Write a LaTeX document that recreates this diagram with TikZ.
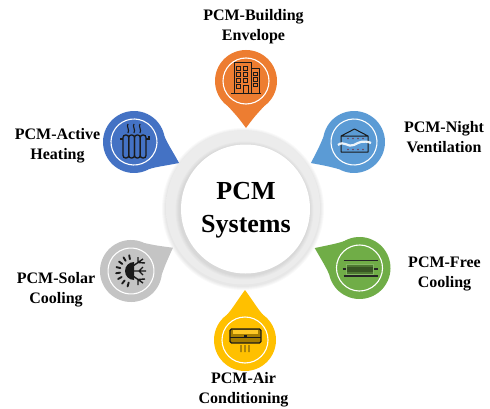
\documentclass[tikz,border=0pt]{standalone}
\usepackage{fontspec}
\setmainfont{Liberation Serif}
\usetikzlibrary{calc}
\definecolor{pinorange}{HTML}{ED7D31}
\definecolor{pinblue}{HTML}{4472C4}
\definecolor{pinsky}{HTML}{5B9BD5}
\definecolor{pingreen}{HTML}{70AD47}
\definecolor{pinyellow}{HTML}{FFC000}
\definecolor{pingray}{HTML}{C4C4C4}
\definecolor{icondark}{HTML}{1A1A1A}
\definecolor{ringa}{HTML}{EEEEEE}
\definecolor{ringb}{HTML}{EAEAEA}
\definecolor{ringc}{HTML}{F4F4F4}
\definecolor{ringd}{HTML}{E4E4E4}
\pgfdeclareradialshading{ringsh}{\pgfpoint{0bp}{0bp}}{color(0bp)=(ringa);color(42bp)=(ringb);color(46.5bp)=(ringc);color(50bp)=(ringd)}
\tikzset{
  lbl/.style={font=\bfseries\fontsize{16}{20}\selectfont,align=center,text=black,inner sep=0pt},
  title/.style={font=\bfseries\fontsize{26}{33}\selectfont,align=center,text=black,inner sep=0pt},
  ic/.style={draw=icondark,line width=1pt,fill=none,line join=round},
  icw/.style={draw=icondark,line width=0.8pt,fill=none},
}
\newcommand{\pinmark}[5]{% cx cy angle dist colour
  \begin{scope}[shift={(#1,#2)},rotate=#3]
    \fill[#5] (0,0) circle (31);
    \fill[#5] (#4,0) .. controls (#4-13,9.5) and (32,12) .. (25,18.2) -- (25,-18.2) .. controls (32,-12) and (#4-13,-9.5) .. (#4,0) -- cycle;
    \draw[white,line width=1.1pt] (0,0) circle (23);
  \end{scope}}
\begin{document}
\begin{tikzpicture}[x=1pt,y=1pt]
\useasboundingbox (0,0) rectangle (490,408);
\fill[white] (0,0) rectangle (490,408);
% central ring with soft shadow
\foreach \r in {81,80,79,78}{
  \fill[black,opacity=0.025] (243,199) circle (\r);}
\shade[shading=ringsh] (243,200.5) circle (77);
\foreach \r in {69,68,67,66}{
  \fill[black,opacity=0.02] (244.5,197.5) circle (\r);}
\fill[white] (245.5,199) circle (64.5);
\node[title] (centre) at (246,198) {PCM\\Systems};
% pins
\pinmark{246}{327}{-90}{47}{pinorange}
\pinmark{134}{266}{-25}{49.7}{pinblue}
\pinmark{354}{266}{-154}{48}{pinsky}
\pinmark{359.5}{140}{156}{49}{pingreen}
\pinmark{245}{68}{90}{50}{pinyellow}
\pinmark{131}{137}{29}{48}{pingray}
% building icon
\begin{scope}[shift={(246,327)}]
  \draw[ic] (-12,-12) rectangle (5,18);
  \draw[ic] (5,-12) rectangle (13,12);
  \draw[ic] (-15,-12) -- (15,-12);
  \foreach \y in {11,5,-1}{
    \foreach \x in {-9.5,-2.5}{\draw[icw] (\x,\y) rectangle +(4,4);}}
  \draw[icw] (-9.5,-7) rectangle +(4,4);
  \draw[icw] (-3,-12) rectangle (2.5,-4);
  \foreach \y in {5.5,0,-5.5}{\draw[icw] (7,\y) rectangle +(4,3.5);}
\end{scope}
% radiator icon
\begin{scope}[shift={(134,266)}]
  \foreach \x in {-11,-5.25,0.5,6.25}{
    \draw[icondark,line width=1.3pt,rounded corners=2.5pt] (\x,-16) rectangle +(5.75,23);}
  \draw[icondark,line width=1.3pt] (-14,3) -- (-11,3) (12,3) -- (15,3) -- (15,6);
  \foreach \x in {-6,0,6}{
    \draw[icondark,line width=1.1pt] (\x,18) .. controls (\x-2,16) and (\x+2,12) .. (\x,9);}
\end{scope}
% ventilation icon
\begin{scope}[shift={(354,266)}]
  \draw[icondark,line width=1pt,line join=round] (-13,-10) rectangle (14,6) (-13,6) -- (0.5,13) -- (14,6);
  \foreach \x in {-6,-1,4,9}{
    \fill[red!50!black,opacity=0.6] (\x,3.5) circle (0.8);
    \fill[red!50!black,opacity=0.6] (\x,-7.5) circle (0.8);}
  \draw[white,line width=2.2pt,opacity=0.9] (-16,-3) .. controls (-10,2) and (-6,-6) .. (0,-3) .. controls (5,0) and (10,2) .. (17,-1);
\end{scope}
% free-cooling icon
\begin{scope}[shift={(359.5,140)}]
  \draw[black!85,line width=1.1pt] (-16,7.5) -- (18,7.5) (-16,-8) -- (18,-8);
  \fill[pingreen!70!black] (-13,-6) rectangle (14,4);
  \fill[pingreen!50!black] (-13,-3.5) rectangle (14,1.5);
  \draw[pingreen!85!white,line width=0.8pt] (-13,-6) rectangle (14,4);
  \draw[black!85,line width=1.1pt] (-17,-1) -- (-13.5,-1) (14.5,-1) -- (18,-1);
\end{scope}
% air-conditioner icon
\begin{scope}[shift={(245,68)}]
  \fill[pinyellow!65!black] (-15,-3) rectangle (16,11);
  \fill[pinyellow!85!white] (-12,6) rectangle (13,10);
  \draw[icondark,line width=1.1pt,rounded corners=1.5pt] (-15,-3) rectangle (16,11);
  \draw[icondark,line width=0.9pt] (-15,3) -- (16,3);
  \fill[icondark] (-1,3) rectangle (2,5);
  \foreach \x in {-4,0,4}{
    \draw[icondark,line width=0.9pt] (\x,-5) .. controls (\x-1.5,-7.5) and (\x+1.5,-9.5) .. (\x,-12);}
\end{scope}
% snow/sun icon
\begin{scope}[shift={(131,137)}]
  \fill[icondark] (3,-9) arc (-90:-270:9) -- cycle;
  \foreach \a in {100,122,144,166,188,210,232,254}{
    \draw[icondark,line width=1.9pt,line cap=round,shift={(1,0)}] (\a:12) -- (\a:16);}
  \draw[icondark,line width=1.4pt] (2,0) -- (15,0) (8,0) -- (12,4) (8,0) -- (12,-4)
    (2,5) -- (12,12) (7,8.5) -- (14,8) (7,8.5) -- (7,14)
    (2,-5) -- (12,-12) (7,-8.5) -- (14,-8) (7,-8.5) -- (7,-14);
\end{scope}
% labels
\node[lbl] (build) at (253.5,381) {PCM-Building\\Envelope};
\node[lbl] (active) at (57.5,262) {PCM-Active\\Heating};
\node[lbl] (night) at (444,271) {PCM-Night\\Ventilation};
\node[lbl] (free) at (444.5,134) {PCM-Free\\Cooling};
\node[lbl] (solar) at (56,118) {PCM-Solar\\Cooling};
\node[lbl] (air) at (243.5,18) {PCM-Air\\Conditioning};
\end{tikzpicture}
\end{document}
